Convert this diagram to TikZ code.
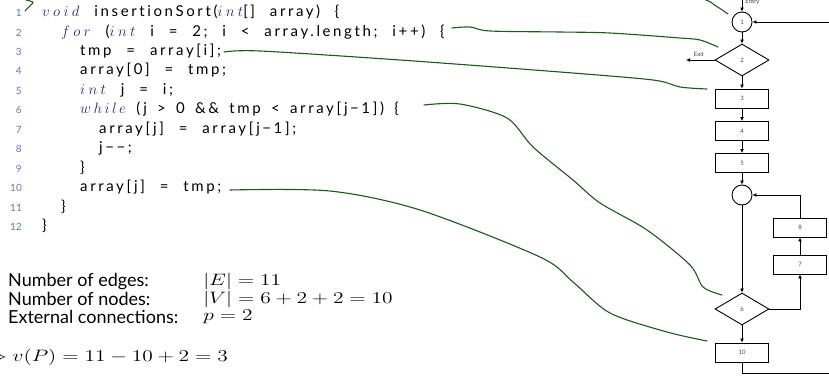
\RequirePackage{fix-cm}
\documentclass[tikz,border=0pt]{standalone}
\usepackage{fontspec}
\usepackage{amsmath}
\usetikzlibrary{arrows.meta,shapes.geometric}
\newfontfamily\codefont[LetterSpace=17.5,WordSpace=2.3,Ligatures=NoCommon]{Lato}
\newfontfamily\labelfont{Lato}
\definecolor{kwblue}{RGB}{40,40,130}
\definecolor{numblue}{RGB}{95,120,185}
\definecolor{inkgreen}{RGB}{25,90,25}
\newcommand{\kw}[1]{\textcolor{kwblue}{$#1$}}
\newcommand{\csp}{\hspace{10.3pt}}
\tikzset{
  code/.style={anchor=west, inner sep=0pt, text height=10pt, text depth=3pt,
    font=\codefont\fontsize{15}{16}\selectfont},
  lineno/.style={anchor=east, inner sep=0pt, text=numblue,
    font=\labelfont\fontsize{10}{12}\selectfont},
  stat/.style={anchor=west, inner sep=0pt, font=\labelfont\fontsize{18}{18}\selectfont},
  statmath/.style={anchor=west, inner sep=0pt, xscale=1.3, transform shape,
    font=\fontsize{16.5}{17}\selectfont},
  box/.style={draw, line width=0.9pt, minimum width=53pt, minimum height=19pt,
    inner sep=0pt, text=black!75, font=\labelfont\fontsize{6}{7}\selectfont},
  decision/.style={diamond, draw, line width=0.9pt, aspect=1.7, minimum width=54pt,
    minimum height=32pt, inner sep=0pt, text=black!75, font=\labelfont\fontsize{6}{7}\selectfont},
  junction/.style={circle, draw, line width=0.9pt, minimum size=20pt, inner sep=0pt,
    text=black!75, font=\labelfont\fontsize{6}{7}\selectfont},
  flow/.style={->, line width=0.8pt},
  ink/.style={draw=inkgreen, line width=1.1pt, line cap=round},
  small/.style={inner sep=0pt, font=\labelfont\fontsize{6}{7}\selectfont, text=black!75},
  >={Latex[length=4pt,width=4pt]}
}
\begin{document}
\begin{tikzpicture}[x=1pt, y=-1pt]
    \useasboundingbox (0,0) rectangle (829,375);

    % Numeros de ligne
    \foreach \n in {1,...,12}
      \node[lineno] (ln\n) at (22,{13+19.45*(\n-1)}) {\n};

    % Code
    \node[code] (c1) at (42,13) {\kw{v\:o\:i\:d} insertionSort(\kw{i\:n\:t}[] array) \{};
    \node[code] (c2) at (61,32.5) {\kw{f\:o\:r} (\kw{i\:n\:t} i = 2; i < array.length; i++) \{};
    \node[code] (c3) at (80,52) {tmp = array[i];};
    \node[code] (c4) at (80,71.4) {array[0] = tmp;};
    \node[code] (c5) at (80,90.8) {\kw{i\:n\:t} j = i;};
    \node[code] (c6) at (80,110.3)
      {\kw{w\,h\,i\,l\,e}\csp(j\csp>\csp0\csp\&\&\csp tmp\csp<\csp array[j\,−1])\csp\{};
    \node[code] (c7) at (99,129.7) {array[j] = array[j\,−1];};
    \node[code] (c8) at (99,149.2) {j\,−−;};
    \node[code] (c9) at (80,168.6) {\}};
    \node[code] (c10) at (80,188) {array[j] = tmp;};
    \node[code] (c11) at (61,207.5) {\}};
    \node[code] (c12) at (42,227) {\}};

    % Metrique
    \node[stat] (sE) at (8,282) {Number of edges:};
    \node[stat] (sV) at (8,299) {Number of nodes:};
    \node[stat] (sP) at (8,316.5) {External connections:};
    \node[statmath] (mE) at (203,281) {$|E| = 11$};
    \node[statmath] (mV) at (203,299.5) {$|V| = 6+2+2 = 10$};
    \node[statmath] (mP) at (203,317) {$p = 2$};
    \node[statmath] (res) at (-15,357) {$\Rightarrow v(P) = 11-10+2 = 3$};

    % Graphe de flot
    \node[junction] (f1) at (742,22) {1};
    \node[decision] (f2) at (742,60) {2};
    \node[box] (f3) at (742,98.5) {3};
    \node[box] (f4) at (742,131) {4};
    \node[box] (f5) at (742,163) {5};
    \node[junction] (fj) at (742,195) {};
    \node[decision] (f6) at (742,309) {6};
    \node[box] (f7) at (800,264.5) {7};
    \node[box] (f8) at (800,227.5) {8};
    \node[box] (f10) at (742,352.5) {10};
    \coordinate (entry) at (742,-2);
    \coordinate (exit) at (686,60);
    \coordinate (back) at (845,373);

    \draw[flow] (entry) -- (f1) node[small, pos=0.3, right=3pt] {Entry};
    \draw[flow] (f1) -- (f2);
    \draw[flow] (f2) -- (exit) node[small, pos=0.55, above=3pt] {Exit};
    \draw[flow] (f2) -- (f3);
    \draw[flow] (f3) -- (f4);
    \draw[flow] (f4) -- (f5);
    \draw[flow] (f5) -- (fj);
    \draw[flow] (fj) -- (f6);
    \draw[flow] (f6.east) -| (f7);
    \draw[flow] (f7) -- (f8);
    \draw[flow] (f8) |- (fj);
    \draw[flow] (f6) -- (f10);
    \draw[flow] (f10) |- (back) |- (f1);

    % Traits a la main
    \draw[ink] plot[smooth, tension=0.6] coordinates {(25,11) (33,3) (45,-6) (300,-22) (640,-16) (700,-2) (716,6) (728,14)};
    \draw[ink] plot[smooth, tension=0.5] coordinates {(452,28) (470,27) (490,31) (560,32) (610,33) (680,38) (700,40) (718,47)};
    \draw[ink] plot[smooth, tension=0.5] coordinates {(224,52) (260,51) (400,60) (560,72) (653,80) (680,87) (707,89)};
    \draw[ink] plot[smooth, tension=0.5] coordinates {(424,105) (460,104) (507,118) (533,147) (573,180) (600,203) (647,230) (690,265) (703,287) (722,295)};
    \draw[ink] plot[smooth, tension=0.5] coordinates {(230,190) (330,191) (420,210) (540,257) (573,282) (610,313) (667,332) (707,341)};
\end{tikzpicture}
\end{document}
